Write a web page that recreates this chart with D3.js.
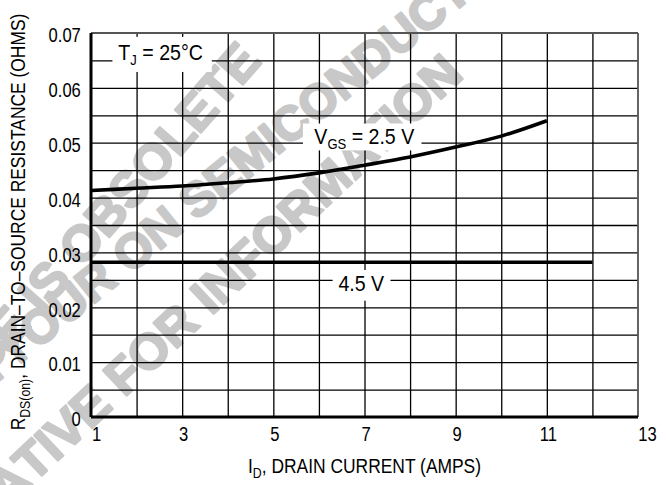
<!DOCTYPE html>
<html>
<head>
<meta charset="utf-8">
<script src="https://cdn.jsdelivr.net/npm/d3@7"></script>
<style>
  body { margin: 0; background: #fff; }
  svg text { font-family: "Liberation Sans", Arial, Helvetica, sans-serif; fill: #000; }
  .wm text { font-weight: bold; fill: #c8c8c8; stroke: #c8c8c8; stroke-width: 2.5; stroke-linejoin: round; }
</style>
</head>
<body>
<div id="chart"></div>
<script>
// data
const drainCurrent = [1, 2, 3, 4, 5, 6, 7, 8, 9, 10, 11];
const rdsVgs25 = [0.0413, 0.0417, 0.0421, 0.0427, 0.0434, 0.0445, 0.0459, 0.0474, 0.0492, 0.0512, 0.0540];
const drainCurrent45 = [1, 12];
const rdsVgs45 = [0.0282, 0.0282];
const xTickLabels = [1, 3, 5, 7, 9, 11, 13];
const yTickLabels = [0, 0.01, 0.02, 0.03, 0.04, 0.05, 0.06, 0.07];

const width = 666, height = 485;
const margin = { left: 91, right: 28, top: 33, bottom: 68 };
const plotW = width - margin.left - margin.right;
const plotH = height - margin.top - margin.bottom;
const narrow = 'scale(0.85,1)'; // the original type is a condensed grotesque

const svg = d3.select('#chart').append('svg')
  .attr('width', width)
  .attr('height', height);

// watermark, behind everything
const wm = svg.append('g').attr('class', 'wm');
// cx,cy = centre of the first letter of "main", a = angle in degrees
function wmLine(prefix, main, cx, cy, a, size) {
  const r = a * Math.PI / 180;
  const u = [Math.cos(r), Math.sin(r)];
  const v = [-Math.sin(r), Math.cos(r)];
  const t = wm.append('text').attr('font-size', size).text(main);
  const first = t.node().getSubStringLength(0, 1);
  const bx = cx - u[0] * first / 2 + v[0] * size * 0.36;
  const by = cy - u[1] * first / 2 + v[1] * size * 0.36;
  t.attr('transform', 'translate(' + bx + ',' + by + ') rotate(' + a + ')');
  wm.append('text').attr('font-size', size).attr('text-anchor', 'end')
    .attr('transform', 'translate(' + bx + ',' + by + ') rotate(' + a + ')')
    .text(prefix);
}
wmLine('THIS DEVICE I', 'S OBSOLETE', 48, 280, -48.8, 50);
wmLine('CONTACT ', 'YOUR ON SEMICONDUCTOR', 13, 347, -39, 48);
wmLine('REPRESENTA', 'TIVE FOR INFORMATION', 32, 460, -43.3, 50);

const x = d3.scaleLinear().domain([1, 13]).range([0, plotW]);
const y = d3.scaleLinear().domain([0, 0.07]).range([plotH, 0]);

const g = svg.append('g')
  .attr('transform', 'translate(' + margin.left + ',' + margin.top + ')');

// grid
g.append('g')
  .attr('class', 'gridx')
  .attr('transform', 'translate(0,' + plotH + ')')
  .call(d3.axisBottom(x).tickValues(d3.range(2, 13)).tickSize(-plotH).tickFormat(''))
  .call(s => s.select('.domain').remove())
  .selectAll('line').attr('stroke', '#000').attr('stroke-width', 1.3);

g.append('g')
  .attr('class', 'gridy')
  .call(d3.axisLeft(y).tickValues(d3.range(1, 14).map(d => d * 0.005)).tickSize(-plotW).tickFormat(''))
  .call(s => s.select('.domain').remove())
  .selectAll('line').attr('stroke', '#000').attr('stroke-width', 1.3);

// frame: top/right lighter, left/bottom heavy
g.append('line').attr('x1', 0).attr('x2', plotW).attr('y1', 0).attr('y2', 0)
  .attr('stroke', '#555').attr('stroke-width', 1.8);
g.append('line').attr('x1', plotW).attr('x2', plotW).attr('y1', 0).attr('y2', plotH)
  .attr('stroke', '#555').attr('stroke-width', 1.8);
g.append('line').attr('x1', 0).attr('x2', 0).attr('y1', 0).attr('y2', plotH)
  .attr('stroke', '#000').attr('stroke-width', 3);
g.append('line').attr('x1', 0).attr('x2', plotW).attr('y1', plotH).attr('y2', plotH)
  .attr('stroke', '#000').attr('stroke-width', 3);

// tick labels
const xAx = g.append('g')
  .attr('transform', 'translate(0,' + plotH + ')')
  .call(d3.axisBottom(x).tickValues(xTickLabels).tickSize(0).tickPadding(10).tickFormat(d3.format('d')));
xAx.select('.domain').remove();
xAx.selectAll('text')
  .attr('font-size', 19.5)
  .attr('font-family', null)
  .attr('transform', function(d) {
    const dx = d === 1 ? 5 : (d === 13 ? 9 : 1);
    return 'translate(' + dx + ',0) ' + narrow;
  });

const yAx = g.append('g')
  .call(d3.axisLeft(y).tickValues(yTickLabels).tickSize(0).tickPadding(12)
    .tickFormat(d => d === 0 ? '0' : d3.format('.2f')(d)));
yAx.select('.domain').remove();
yAx.selectAll('text')
  .attr('font-size', 19.5)
  .attr('font-family', null)
  .attr('dy', '0.45em')
  .attr('transform', narrow);

// curves
const line = d3.line()
  .x(d => x(d[0]))
  .y(d => y(d[1]))
  .curve(d3.curveMonotoneX);

g.append('path')
  .datum(d3.zip(drainCurrent, rdsVgs25))
  .attr('d', line)
  .attr('fill', 'none')
  .attr('stroke', '#000')
  .attr('stroke-width', 3.6);

g.append('path')
  .datum(d3.zip(drainCurrent45, rdsVgs45))
  .attr('d', line)
  .attr('fill', 'none')
  .attr('stroke', '#000')
  .attr('stroke-width', 3.6);

// labels with white boxes
function labelBox(x0, y0, w, h) {
  g.append('rect')
    .attr('x', x0).attr('y', y0)
    .attr('width', w).attr('height', h)
    .attr('fill', '#fff');
}
function label(px, py, anchor) {
  return g.append('g').attr('transform', 'translate(' + px + ',' + py + ')')
    .append('text')
    .attr('text-anchor', anchor || 'start')
    .attr('font-size', 22.5)
    .attr('transform', 'scale(0.87,1)');
}

// T_J = 25°C
labelBox(x(1.47), y(0.0693), x(3.65) - x(1.47), y(0.0629) - y(0.0693));
const tj = label(x(1.6), y(0.0651));
tj.append('tspan').text('T');
tj.append('tspan').attr('dy', 5).attr('font-size', 15).text('J');
tj.append('tspan').attr('dy', -5).text(' =  25°C');

// V_GS = 2.5 V
labelBox(x(5.65), y(0.0535), x(8.25) - x(5.65), y(0.0486) - y(0.0535));
const vg = label(x(5.9), y(0.0498));
vg.append('tspan').text('V');
vg.append('tspan').attr('dy', 5).attr('font-size', 15).text('GS');
vg.append('tspan').attr('dy', -5).text(' = 2.5 V');

// 4.5 V
labelBox(x(6.3), y(0.0268), x(7.57) - x(6.3), y(0.0212) - y(0.0268));
label(x(6.93), y(0.0229), 'middle').text('4.5 V');

// axis titles
const xt = svg.append('g')
  .attr('transform', 'translate(' + (margin.left + plotW / 2) + ',473)')
  .append('text')
  .attr('text-anchor', 'middle')
  .attr('font-size', 20.5)
  .attr('transform', narrow);
xt.append('tspan').text('I');
xt.append('tspan').attr('dy', 5).attr('font-size', 14.5).text('D');
xt.append('tspan').attr('dy', -5).text(', DRAIN CURRENT (AMPS)');

const yt = svg.append('text')
  .attr('transform', 'translate(25,222) rotate(-90) ' + narrow)
  .attr('text-anchor', 'middle')
  .attr('font-size', 20.5);
yt.append('tspan').text('R');
yt.append('tspan').attr('dy', 5).attr('font-size', 14.5).text('DS(on)');
yt.append('tspan').attr('dy', -5).text(', DRAIN–TO–SOURCE  RESISTANCE (OHMS)');
</script>
</body>
</html>
